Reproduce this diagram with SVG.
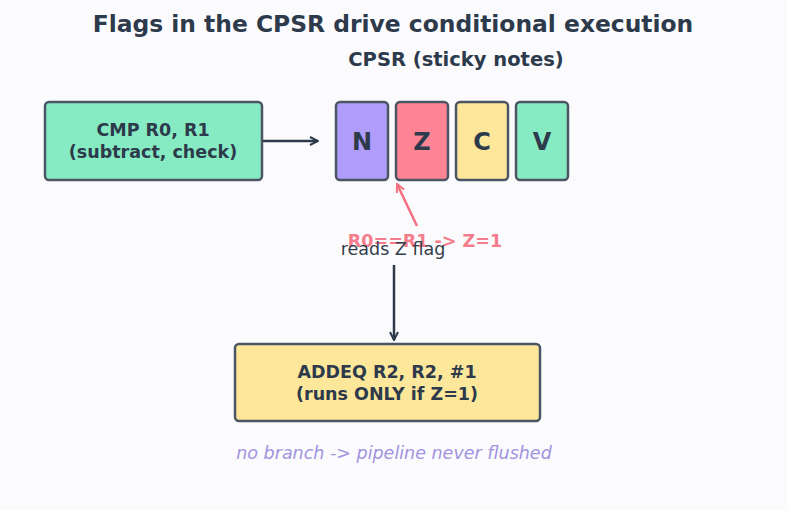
<svg xmlns="http://www.w3.org/2000/svg" width="787" height="510" viewBox="0 0 787 510">
<style>
.box{stroke:#4b5563;stroke-width:2.5}
.t{font-family:"DejaVu Sans",Verdana,sans-serif;font-weight:bold;fill:#2d3a4b;text-anchor:middle}
.lbl{font-size:17.5px}
.flag{font-size:24px}
.conn{stroke:#2d3a4b;stroke-width:2.5;fill:none}
</style>
<defs>
<marker id="ah" viewBox="0 0 10 10" refX="9" refY="5" markerWidth="10" markerHeight="10" markerUnits="userSpaceOnUse" orient="auto"><path d="M1,1 L9,5 L1,9" fill="none" stroke="#2d3a4b" stroke-width="2"/></marker>
<marker id="ahr" viewBox="0 0 10 10" refX="9" refY="5" markerWidth="10" markerHeight="10" markerUnits="userSpaceOnUse" orient="auto"><path d="M1,1 L9,5 L1,9" fill="none" stroke="#f5707f" stroke-width="2"/></marker>
</defs>
<rect width="787" height="510" fill="#fbfbfe"/>
<text class="t" x="393" y="32" font-size="23.4">Flags in the CPSR drive conditional execution</text>
<text class="t" x="456" y="66" font-size="19.5">CPSR (sticky notes)</text>
<g id="cmp">
<rect class="box" x="45" y="102" width="217" height="78" rx="4" fill="#86ebc3"/>
<text class="t lbl" x="153" y="136">CMP R0, R1</text>
<text class="t lbl" x="153" y="158">(subtract, check)</text>
</g>
<g id="flagN"><rect class="box" x="336" y="102" width="52" height="78" rx="4" fill="#b09cfa"/><text class="t flag" x="362" y="150">N</text></g>
<g id="flagZ"><rect class="box" x="396" y="102" width="52" height="78" rx="4" fill="#ff8595"/><text class="t flag" x="422" y="150">Z</text></g>
<g id="flagC"><rect class="box" x="456" y="102" width="52" height="78" rx="4" fill="#fde79a"/><text class="t flag" x="482" y="150">C</text></g>
<g id="flagV"><rect class="box" x="516" y="102" width="52" height="78" rx="4" fill="#86ebc3"/><text class="t flag" x="542" y="150">V</text></g>
<g id="addeq">
<rect class="box" x="235" y="344" width="305" height="77" rx="4" fill="#fde79a"/>
<text class="t lbl" x="387" y="378">ADDEQ R2, R2, #1</text>
<text class="t lbl" x="387" y="400">(runs ONLY if Z=1)</text>
</g>
<g id="connectors">
<line class="conn" x1="263" y1="141" x2="318" y2="141" marker-end="url(#ah)"/>
<line x1="417" y1="226" x2="397" y2="184" stroke="#f5707f" stroke-width="2.5" marker-end="url(#ahr)"/>
<line class="conn" x1="394" y1="265" x2="394" y2="340" marker-end="url(#ah)"/>
</g>
<text class="t lbl" x="425" y="247" style="fill:#f47c8b">R0==R1 -&gt; Z=1</text>
<text x="393" y="255" font-family="DejaVu Sans,Verdana,sans-serif" font-size="17.5" fill="#333d4a" text-anchor="middle">reads Z flag</text>
<text x="394" y="459" font-family="DejaVu Sans,Verdana,sans-serif" font-size="17.5" font-style="italic" fill="#a193e0" text-anchor="middle">no branch -&gt; pipeline never flushed</text>
</svg>
